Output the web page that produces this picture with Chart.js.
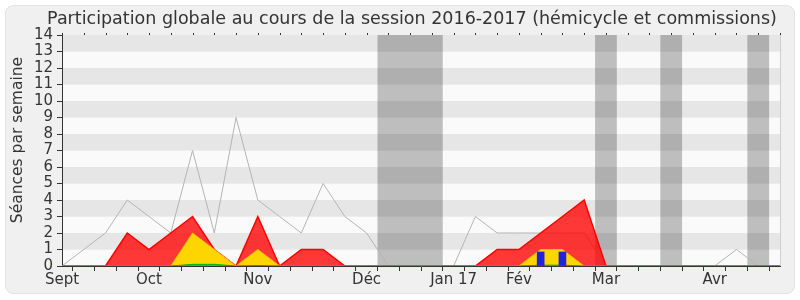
<!DOCTYPE html>
<html>
<head>
<meta charset="utf-8">
<script src="https://cdn.jsdelivr.net/npm/chart.js@4.4.1/dist/chart.umd.min.js"></script>
<style>
  body { margin: 0; background: #fff; }
</style>
</head>
<body>
<canvas id="chart" width="800" height="300"></canvas>
<script>
// one entry per week, month names only where the month starts
var weekLabels = ['Sept', '', '', '', 'Oct', '', '', '', '', 'Nov', '', '', '', '', 'Déc', '', '', '',
  'Jan 17', '', '', 'Fév', '', '', '', 'Mar', '', '', '', '', 'Avr', '', '', ''];
var presences = [0, 1, 2, 4, 3, 2, 7, 2, 9, 4, 3, 2, 5, 3, 2, 0, 0, 0, 0, 3, 2, 2, 2, 2, 2, 0, 0, 0, 0, 0, 0, 1, 0, 0];
var commissions = [0, 0, 0, 2, 1, 2, 3, 1, 0, 3, 0, 1, 1, 0, 0, 0, 0, 0, 0, 0, 1, 1, 2, 3, 4, 0, 0, 0, 0, 0, 0, 0, 0, 0];
var hemicycle = [0, 0, 0, 0, 0, 0, 2, 1, 0, 1, 0, 0, 0, 0, 0, 0, 0, 0, 0, 0, 0, 0, 1, 1, 0, 0, 0, 0, 0, 0, 0, 0, 0, 0];
var interventions = [0, 0, 0, 0, 0, 0, 0.1, 0.1, 0, 0.03, 0, 0, 0, 0, 0, 0, 0, 0, 0, 0, 0, 0, 0.05, 0.05, 0, 0, 0, 0, 0, 0, 0, 0, 0, 0];
var questions = [null, null, null, null, null, null, null, null, null, null, null, null, null, null, null, null, null, null,
  null, null, null, null, 0.85, 0.85, null, null, null, null, null, null, null, null, null, null];
// vacances (en index de semaine)
var vacStart = [14.5, 24.5, 27.5, 31.5];
var vacEnd = [17.5, 25.5, 28.5, 32.5];

var titleText = 'Participation globale au cours de la session 2016-2017 (hémicycle et commissions)';
var yTitle = 'Séances par semaine';
var fontName = "'DejaVu Sans', sans-serif";

var backdrop = {
  id: 'backdrop',
  beforeDraw: function (chart) {
    var c = chart.ctx, a = chart.chartArea;
    var x = chart.scales.x, y = chart.scales.y;
    c.save();
    c.fillStyle = '#fff';
    c.fillRect(0, 0, chart.width, chart.height);
    // rounded panel
    c.beginPath();
    c.roundRect(5.5, 5.5, 789, 288, 8);
    c.fillStyle = '#f0f0f0';
    c.fill();
    c.strokeStyle = '#e2e2e2';
    c.lineWidth = 1;
    c.stroke();
    // stripes
    for (var v = 0; v < 14; v++) {
      c.fillStyle = v % 2 == 0 ? '#fafafa' : '#e6e6e6';
      var y0 = y.getPixelForValue(v + 1), y1 = y.getPixelForValue(v);
      c.fillRect(a.left, y0, a.right - a.left, y1 - y0);
    }
    // vacation bands
    c.fillStyle = 'rgba(0,0,0,0.24)';
    for (var i = 0; i < vacStart.length; i++) {
      var x0 = x.getPixelForValue(vacStart[i]), x1 = x.getPixelForValue(vacEnd[i]);
      c.fillRect(x0, a.top, x1 - x0, a.bottom - a.top);
    }
    // right border
    c.strokeStyle = '#cfcfcf';
    c.beginPath();
    c.moveTo(a.right + 0.5, a.top);
    c.lineTo(a.right + 0.5, a.bottom);
    c.stroke();
    // little ticks on top
    c.strokeStyle = '#333';
    for (var k = 0; k < weekLabels.length; k++) {
      var px = Math.round(x.getPixelForValue(k)) + 0.5;
      c.beginPath();
      c.moveTo(px, a.top - 2);
      c.lineTo(px, a.top);
      c.stroke();
    }
    // title
    c.fillStyle = '#333';
    c.font = '17.5px ' + fontName;
    c.textAlign = 'center';
    c.textBaseline = 'middle';
    c.fillText(titleText, 412, 19);
    // y axis title
    c.translate(18, 140);
    c.rotate(-Math.PI / 2);
    c.font = '15.5px ' + fontName;
    c.fillText(yTitle, 0, 0);
    c.restore();
  }
};

var ctx = document.getElementById('chart').getContext('2d');
var myChart = new Chart(ctx, {
  type: 'line',
  data: {
    labels: weekLabels,
    datasets: [
      { type: 'bar', data: questions, backgroundColor: '#2222dd', barThickness: 7, order: 0 },
      { data: interventions, fill: 'origin', backgroundColor: '#00dd00', borderColor: '#00b400', borderWidth: 1, pointRadius: 0, tension: 0, order: 1 },
      { data: hemicycle, fill: 'origin', backgroundColor: '#ffd500', borderColor: '#e8c000', borderWidth: 1, pointRadius: 0, tension: 0, order: 2 },
      { data: commissions, fill: 'origin', backgroundColor: 'rgba(255,0,0,0.78)', borderColor: '#ff0000', borderWidth: 1.5, pointRadius: 0, tension: 0, order: 3 },
      { data: presences, fill: false, borderColor: '#b4b4b4', borderWidth: 1, pointRadius: 0, tension: 0, order: 4 }
    ]
  },
  options: {
    responsive: false,
    animation: false,
    layout: { padding: { top: 35, right: 20, bottom: 0, left: 0 } },
    plugins: { legend: { display: false }, tooltip: { enabled: false } },
    scales: {
      x: {
        type: 'category',
        offset: false,
        grid: { drawOnChartArea: false, color: '#333', tickLength: 5 },
        border: { color: '#333' },
        ticks: { autoSkip: false, maxRotation: 0, padding: 0, color: '#333', font: { family: fontName, size: 15 } },
        afterFit: function (s) { s.height = 34; }
      },
      y: {
        min: 0,
        max: 14,
        grid: { drawOnChartArea: false, color: '#333', tickLength: 5 },
        border: { color: '#333' },
        ticks: { stepSize: 1, autoSkip: false, padding: 4, color: '#333', font: { family: fontName, size: 15 } },
        afterFit: function (s) { s.width = 62; }
      }
    }
  },
  plugins: [backdrop]
});
</script>
</body>
</html>
